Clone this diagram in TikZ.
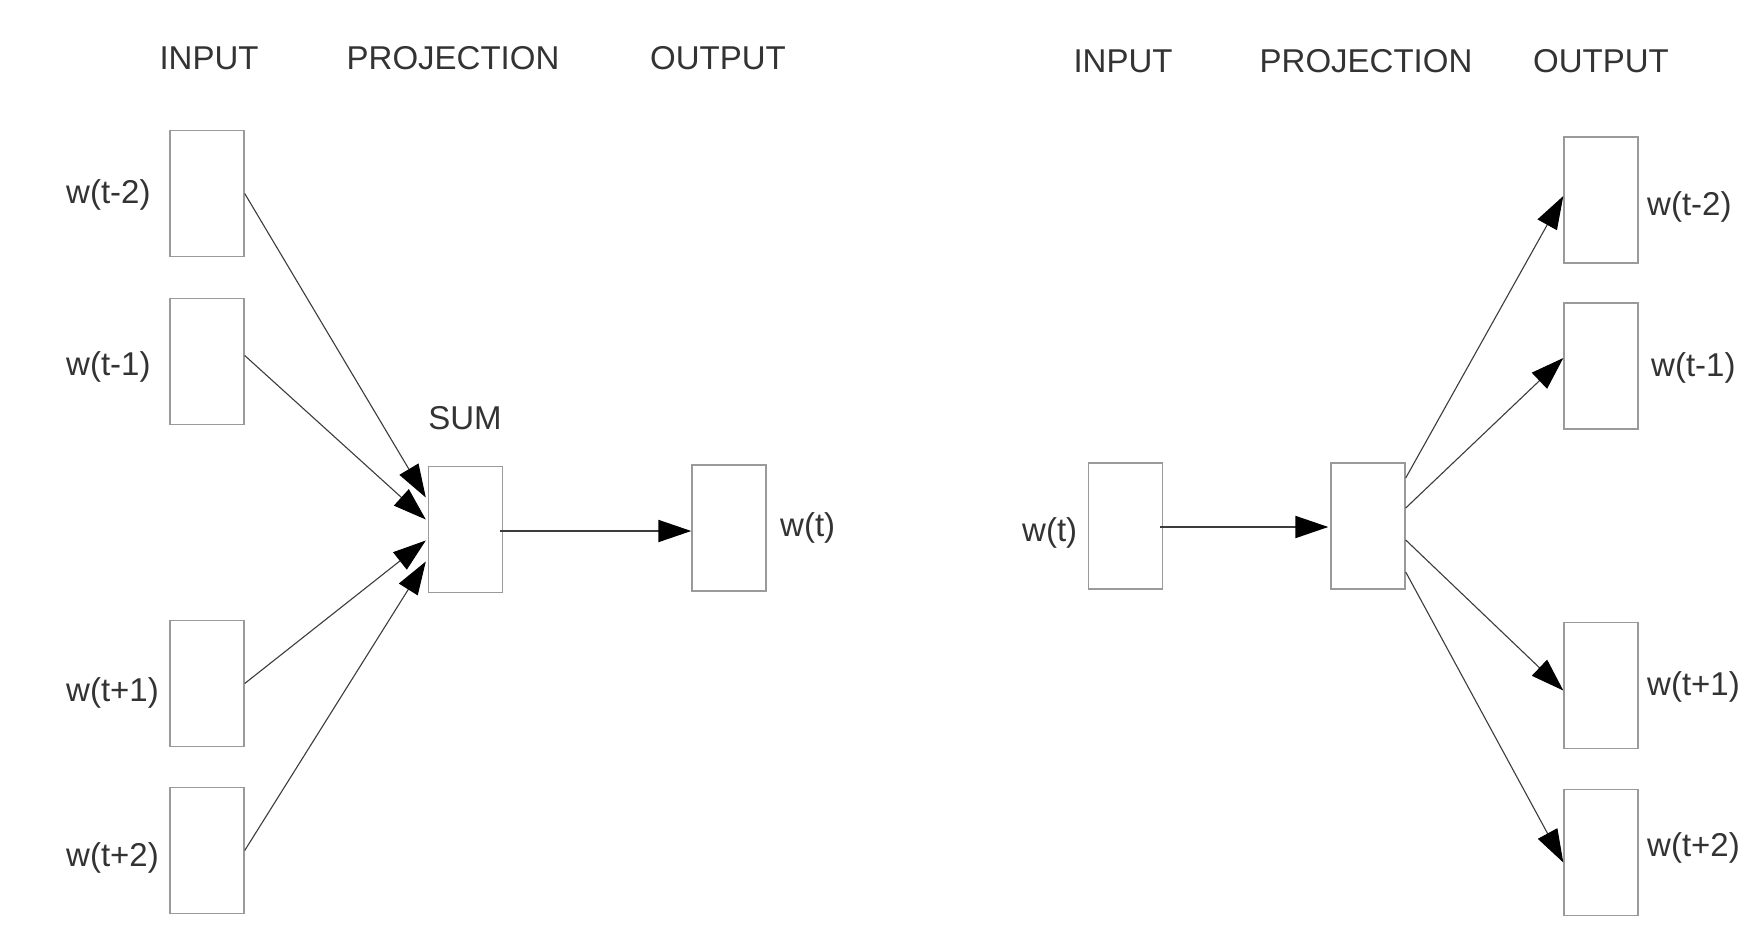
\documentclass[tikz,border=0pt]{standalone}
\usepackage{fontspec}
\setmainfont{Liberation Sans}
\usetikzlibrary{arrows.meta,calc}
\definecolor{txt}{HTML}{333333}
\definecolor{boxline}{HTML}{9A9A9A}
\definecolor{arrline}{HTML}{3C3C3C}
\begin{document}
\begin{tikzpicture}[x=1pt,y=-1pt,
  wbox/.style={draw=boxline,line width=1.4pt,fill=white,minimum width=74pt,minimum height=126pt,inner sep=0pt},
  lbl/.style={text=txt,font=\fontsize{33}{37}\selectfont,inner sep=0pt},
  arr/.style={draw=arrline,line width=1.1pt,-{Triangle[length=33pt,width=22pt,black]}},
  harr/.style={draw=arrline,line width=2pt,-{Triangle[length=33pt,width=22pt,black]}}]
\useasboundingbox[fill=white] (0,0) rectangle (1764,948);

% ---------- left (CBOW) ----------
\node[lbl] (hinL) at (209,58) {INPUT};
\node[lbl] (hprL) at (453,58) {PROJECTION};
\node[lbl] (houL) at (718,58) {OUTPUT};

\node[wbox] (a1) at (207,193.5) {};
\node[wbox] (a2) at (207,361.5) {};
\node[wbox] (a3) at (207,683.5) {};
\node[wbox] (a4) at (207,850.5) {};
\node[wbox] (sum) at (465.5,529.5) {};
\node[wbox] (outL) at (729,528) {};

\node[lbl,anchor=west] (la1) at (66,195) {w(t-2)};
\node[lbl,anchor=west] (la2) at (66,367) {w(t-1)};
\node[lbl,anchor=west] (la3) at (66,693) {w(t+1)};
\node[lbl,anchor=west] (la4) at (66,858) {w(t+2)};
\node[lbl] (lsum) at (465,418) {SUM};
\node[lbl,anchor=west] (lout) at (780,528) {w(t)};

\coordinate (s1) at ($(sum.west)+(-2,-32)$);
\coordinate (s2) at ($(sum.west)+(-2,-10)$);
\coordinate (s3) at ($(sum.west)+(-2,11)$);
\coordinate (s4) at ($(sum.west)+(-2,32)$);
\draw[arr] (a1.east) -- (s1);
\draw[arr] ($(a2.east)+(0,-6)$) -- (s2);
\draw[arr] (a3.east) -- (s3);
\draw[arr] (a4.east) -- (s4);
\draw[harr] ($(sum.east)+(-3,1.5)$) -- ($(outL.west)+(0,3)$);

% ---------- right (Skip-gram) ----------
\node[lbl] (hinR) at (1123,61) {INPUT};
\node[lbl] (hprR) at (1366,61) {PROJECTION};
\node[lbl] (houR) at (1601,61) {OUTPUT};

\node[wbox] (inR) at (1125.5,526) {};
\node[wbox] (proj) at (1368,526) {};
\node[wbox] (b1) at (1601,200) {};
\node[wbox] (b2) at (1601,366) {};
\node[wbox] (b3) at (1601,685.5) {};
\node[wbox] (b4) at (1601,852.5) {};

\node[lbl,anchor=west] (lin) at (1022,533) {w(t)};
\node[lbl,anchor=west] (lb1) at (1647,207) {w(t-2)};
\node[lbl,anchor=west] (lb2) at (1651,368) {w(t-1)};
\node[lbl,anchor=west] (lb3) at (1647,687) {w(t+1)};
\node[lbl,anchor=west] (lb4) at (1647,848) {w(t+2)};

\draw[harr] ($(inR.east)+(-3,1)$) -- ($(proj.west)+(-2,1)$);
\draw[arr] ($(proj.east)+(0,-48)$) -- ($(b1.west)+(0,-4)$);
\draw[arr] ($(proj.east)+(0,-18)$) -- ($(b2.west)+(0,-8)$);
\draw[arr] ($(proj.east)+(0,14)$) -- ($(b3.west)+(0,5)$);
\draw[arr] ($(proj.east)+(0,46)$) -- ($(b4.west)+(0,10)$);
\end{tikzpicture}
\end{document}
